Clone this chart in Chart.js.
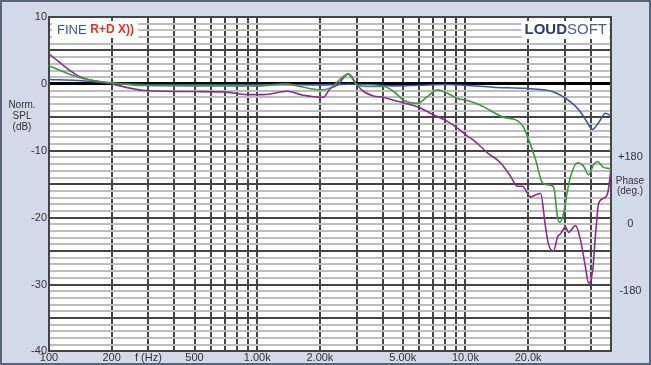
<!DOCTYPE html>
<html>
<head>
<meta charset="utf-8">
<style>
html,body{margin:0;padding:0;background:#d2d9e8;}
#wrap{width:651px;height:365px;position:relative;}
</style>
<script src="https://cdn.jsdelivr.net/npm/chart.js@4/dist/chart.umd.min.js"></script>
</head>
<body>
<div id="wrap"><canvas id="c" width="651" height="365"></canvas></div>
<script>
// ---- data ----
const freqBlue = [100,138,200,289,503,1000,2000,2400,2738,3500,4500,6000,8000,10000,13600,19900,26500,32000,35700,38000,40800,43600,47100,50000];
const splBlue  = [0.65,0.5,0.1,-0.1,-0.15,-0.1,-0.15,-0.1,-0.05,-0.1,-0.3,-0.2,-0.1,-0.2,-0.5,-0.7,-1.2,-2.7,-4.2,-5.5,-6.8,-5.8,-4.4,-4.8];

const freqGreen = [100,138,200,289,503,1000,1394,1610,2009,2244,2506,2738,3026,3493,4034,4508,5034,5877,6567,7335,8190,9152,10222,11810,15230,17780,19010,20090,21710,23440,25060,26490,27680,28310,29580,30920,31970,34540,36920,38990,41220,43130,45570,50000];
const splGreen  = [2.7,1.0,0.15,-0.25,-0.3,-0.3,0,-0.4,-0.9,-0.6,0.7,1.5,-0.2,-0.4,-0.4,-1.1,-2.4,-2.9,-1.9,-0.9,-1.4,-2.2,-2.5,-3.2,-5.0,-5.5,-6.5,-8.3,-11.3,-14.8,-15.1,-15.4,-19.9,-20.7,-19.4,-15.9,-13.8,-11.8,-12.3,-13.6,-12.1,-11.6,-12.4,-12.7];

const freqPurple = [100,138,200,289,503,686,895,1069,1394,1664,2076,2244,2425,2738,3026,3233,3612,4034,4713,5440,6078,6790,8190,9152,10222,10925,12760,14730,16450,17780,18790,20540,21710,22950,24240,25060,26490,27680,28620,30260,31270,33800,35710,37750,38990,40800,42170,43600,46040,48160,50000];
const splPurple  = [4.5,1.2,0.0,-1.0,-1.15,-1.2,-1.6,-1.6,-1.1,-1.7,-2.0,-0.7,-0.2,1.5,-0.2,-1.1,-1.8,-2.0,-2.6,-3.1,-3.6,-4.4,-5.6,-6.6,-7.8,-8.4,-10.3,-11.8,-13.8,-15.3,-15.3,-16.9,-16.6,-16.4,-21.4,-24.0,-25.0,-22.9,-22.4,-21.4,-22.2,-21.2,-23.4,-27.5,-29.8,-28.0,-22.4,-17.9,-17.1,-16.4,-12.8];

const xTickValues = [100,200,300,400,500,600,700,800,900,1000,2000,3000,4000,5000,6000,7000,8000,9000,10000,20000,30000,40000,50000];
const xTickLabels = ['100','200','f (Hz)','','500','','','','','1.00k','2.00k','','','5.00k','','','','','10.0k','20.0k','','',''];
const phaseTickValues = [180,0,-180];
const phaseTickLabels = ['+180','0','-180'];

// ---- chart ----
const FONT = "'Liberation Sans', Arial, sans-serif";
const tickFont = {family: FONT, size: 11};
const TXT = '#333333';

function series(f, v){ return f.map((x,i)=>({x:x, y:v[i]})); }

const deco = {
  id:'deco',
  beforeDraw(chart){
    const c = chart.ctx, a = chart.chartArea;
    c.save();
    c.fillStyle = '#d2d9e8';
    c.fillRect(0,0,chart.width,chart.height);
    c.strokeStyle = '#56657c';
    c.lineWidth = 2;
    c.strokeRect(1,1,chart.width-2,chart.height-2);
    c.fillStyle = '#ffffff';
    c.fillRect(a.left,a.top,a.right-a.left,a.bottom-a.top);
    c.restore();
  },
  afterDraw(chart){
    const c = chart.ctx, a = chart.chartArea, y = chart.scales.y, y2 = chart.scales.y2;
    c.save();
    // left axis title
    c.fillStyle = TXT;
    c.font = "10px " + FONT;
    c.textAlign = 'center';
    c.textBaseline = 'middle';
    c.fillText('Norm.', 22, y.getPixelForValue(-3.2));
    c.fillText('SPL', 22, y.getPixelForValue(-4.8));
    c.fillText('(dB)', 22, y.getPixelForValue(-6.5));
    // right axis title
    const cx = 630;
    c.fillText('Phase', cx, y2.getPixelForValue(113));
    c.fillText('(deg.)', cx, y2.getPixelForValue(88));
    // FINE R+D X)) logo
    c.fillStyle = '#ffffff';
    c.fillRect(a.left+3, a.top+4, 86, 17);
    c.textAlign = 'left';
    c.font = "13px " + FONT;
    c.fillStyle = '#3553a6';
    c.fillText('FINE', a.left+8, a.top+13);
    let w = c.measureText('FINE ').width;
    c.font = "bold 12px " + FONT;
    c.fillStyle = '#e8321e';
    c.fillText('R+D X))', a.left+8+w, a.top+13);
    // LOUDSOFT logo
    c.font = "bold 15px " + FONT;
    const w1 = c.measureText('LOUD').width;
    c.font = "15px " + FONT;
    const w2 = c.measureText('SOFT').width;
    const xr = a.right - 4;
    c.fillStyle = '#ffffff';
    c.fillRect(xr - w1 - w2 - 3, a.top+4, w1+w2+5, 18);
    c.font = "bold 15px " + FONT;
    c.fillStyle = '#2a3d6a';
    c.fillText('LOUD', xr - w1 - w2, a.top+13);
    c.font = "15px " + FONT;
    c.fillStyle = '#4a6096';
    c.fillText('SOFT', xr - w2, a.top+13);
    c.restore();
  }
};

new Chart(document.getElementById('c'), {
  type: 'line',
  data: {
    datasets: [
      {data: series(freqGreen, splGreen), borderColor:'#3c9a3c', borderWidth:1.6, pointRadius:0, cubicInterpolationMode:'monotone', yAxisID:'y'},
      {data: series(freqBlue, splBlue), borderColor:'#3d52b2', borderWidth:1.6, pointRadius:0, cubicInterpolationMode:'monotone', yAxisID:'y'},
      {data: series(freqPurple, splPurple), borderColor:'#8c2c8c', borderWidth:1.6, pointRadius:0, cubicInterpolationMode:'monotone', yAxisID:'y'}
    ]
  },
  options: {
    responsive: false,
    animation: false,
    events: [],
    plugins: {legend:{display:false}, tooltip:{enabled:false}},
    layout: {padding:{top:17, left:0, right:0, bottom:0}},
    scales: {
      x: {
        type: 'logarithmic', min: 100, max: 50000,
        afterBuildTicks: s => { s.ticks = xTickValues.map(v => ({value:v})); },
        afterFit: s => { s.height = 13; },
        ticks: {
          autoSkip:false, maxRotation:0, minRotation:0, padding:0, font:tickFont, color:TXT,
          callback: v => { const i = xTickValues.indexOf(v); return i >= 0 ? xTickLabels[i] : ''; }
        },
        grid: {color:'#454545', lineWidth:2, drawTicks:false},
        border: {display:true, color:'#454545', width:2}
      },
      y: {
        position:'left', min:-40, max:10,
        afterBuildTicks: s => { const t=[]; for (let v=-40; v<=10; v++) t.push({value:v}); s.ticks = t; },
        afterFit: s => { s.width = 49; },
        ticks: {
          autoSkip:false, padding:2, font:tickFont, color:TXT,
          callback: v => (v % 10 === 0 ? String(v) : '')
        },
        grid: {
          drawTicks:false,
          color: c => c.tick.value === 0 ? '#000000' : (c.tick.value % 5 === 0 ? '#454545' : '#bdbdbd'),
          lineWidth: c => c.tick.value === 0 ? 3 : 2
        },
        border: {display:true, color:'#454545', width:2}
      },
      y2: {
        position:'right', min: 18*(-40+20.9), max: 18*(10+20.9),
        afterBuildTicks: s => { s.ticks = phaseTickValues.map(v => ({value:v})); },
        afterFit: s => { s.width = 40; },
        ticks: {
          autoSkip:false, padding:7, font:tickFont, color:TXT, crossAlign:'center',
          callback: v => { const i = phaseTickValues.indexOf(v); return i >= 0 ? phaseTickLabels[i] : ''; }
        },
        grid: {display:false, drawTicks:false},
        border: {display:true, color:'#454545', width:2}
      }
    }
  },
  plugins: [deco]
});
</script>
</body>
</html>
